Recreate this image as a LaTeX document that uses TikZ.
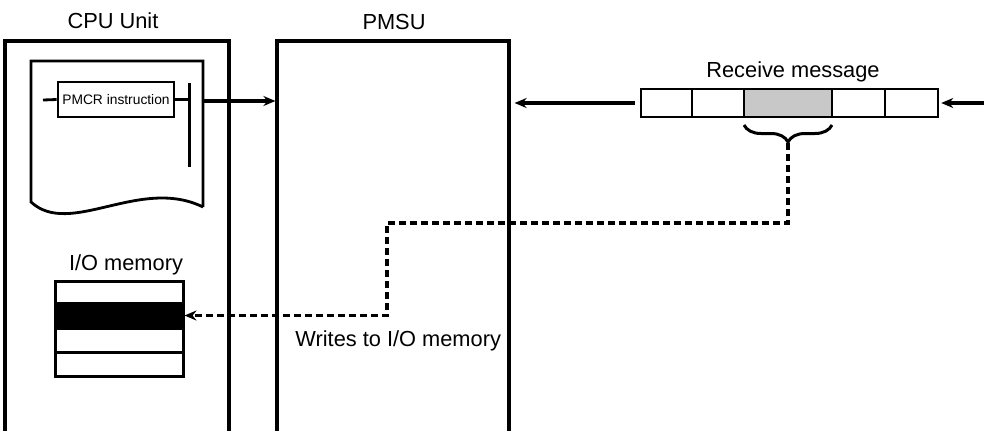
\documentclass[tikz,border=0pt]{standalone}
\usepackage{fontspec}
\setmainfont{Liberation Sans}
\usetikzlibrary{arrows.meta, positioning, fit, decorations.pathreplacing}
\definecolor{msggray}{RGB}{200,200,200}

\begin{document}
\begin{tikzpicture}[
        x=0.5pt, y=-0.5pt,
        unitbox/.style={draw=black, line width=1.6pt, inner sep=0pt},
        cell/.style={draw=black, line width=1.2pt, inner sep=0pt},
        lbl/.style={font=\fontsize{10.9}{13}\selectfont, inner sep=0pt},
        small/.style={font=\fontsize{6.9}{8}\selectfont, inner sep=0pt},
        arrow/.style={-{Stealth[length=6pt, width=5pt]}, line width=1.8pt},
        dasharrow/.style={-{Stealth[length=6pt, width=5pt]}, line width=1.8pt, dash pattern=on 3.5pt off 2pt}
    ]
    \useasboundingbox (0,0) rectangle (984,430);
    \clip (0,0) rectangle (984,430);

    % the two units, open at the bottom
    \node (cpu) [unitbox, fit={(5,41) (229,460)}] {};
    \node (pmsu) [unitbox, fit={(277,41) (509,460)}] {};
    \node (cpulbl) [lbl] at (113,21) {CPU Unit};
    \node (pmsulbl) [lbl] at (394,22) {PMSU};

    % program sheet
    \draw [line width=1.4pt] (203,207) -- (203,61) -- (31,61) -- (31,202)
        .. controls (70,238) and (140,176) .. (203,207);
    \node (pmcr) [cell, line width=1.4pt, minimum width=58pt, minimum height=17.5pt, small] at (116,99.5) {PMCR instruction};
    \coordinate (railL) at (43,100);
    \coordinate (barT) at (189,83);
    \coordinate (barB) at (189,167);
    \coordinate (docE) at (204,101);
    \draw [line width=1.4pt] (railL) -- (pmcr.west);
    \draw [line width=1.4pt] (pmcr.east) -- (pmcr.east -| barT);
    \draw [line width=1.5pt] (barT) -- (barB);
    \draw [arrow] (docE) -- (pmsu.west |- docE);

    % I/O memory
    \node (iolbl) [lbl] at (126,265) {I/O memory};
    \node (mem1) [cell, line width=1.5pt, fit={(55,281) (183,303)}] {};
    \node (mem2) [cell, line width=1.5pt, fill=black, fit={(55,303) (183,328)}] {};
    \node (mem3) [cell, line width=1.5pt, fit={(55,328) (183,352)}] {};
    \node (mem4) [cell, line width=1.5pt, fit={(55,352) (183,376)}] {};

    % receive message
    \node (msglbl) [lbl] at (793,72) {Receive message};
    \node (msg1) [cell, fit={(641,89) (692,117)}] {};
    \node (msg2) [cell, fit={(692,89) (744,117)}] {};
    \node (msg3) [cell, fill=msggray, fit={(744,89) (832,117)}] {};
    \node (msg4) [cell, fit={(832,89) (885,117)}] {};
    \node (msg5) [cell, fit={(885,89) (938,117)}] {};
    \coordinate (inR) at (990,103);
    \draw [arrow, shorten >=1pt] (inR) -- (msg5.east);
    \draw [arrow, shorten <=2.5pt, shorten >=2pt] (msg1.west) -- (msg1.west -| pmsu.east);

    % brace and write path
    \draw [line width=1.5pt, decorate, decoration={brace, mirror, amplitude=8.5pt}] (744,125) -- (832,125);
    \coordinate (brtip) at (788,143);
    \coordinate (jog) at (387,223);
    \draw [dasharrow] (brtip) |- (jog) |- (mem2.east);
    \node (writes) [lbl, anchor=west] at (295,341) {Writes to I/O memory};

\end{tikzpicture}
\end{document}
